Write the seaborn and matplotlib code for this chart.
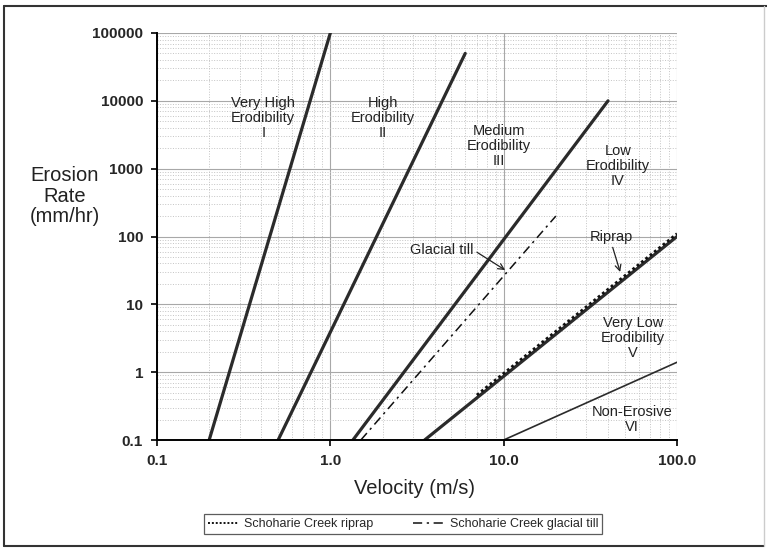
import matplotlib
matplotlib.use("Agg")
import matplotlib.pyplot as plt
import seaborn as sns
from matplotlib.lines import Line2D

# erodibility category lines (velocity m/s, erosion rate mm/hr)
vel_I = [0.2, 1.0]
rate_I = [0.1, 100000]
vel_II = [0.5, 6.0]
rate_II = [0.1, 50000]
vel_III = [1.35, 40]
rate_III = [0.1, 10000]
vel_IV = [3.5, 100]
rate_IV = [0.1, 100]
vel_VI = [10, 100]
rate_VI = [0.1, 1.4]

# Schoharie Creek test data
riprap_vel = [7, 100]
riprap_rate = [0.46, 110]
till_vel = [1.5, 20]
till_rate = [0.1, 200]

y_ticks = [0.1, 1, 10, 100, 1000, 10000, 100000]
y_labels = ["0.1", "1", "10", "100", "1000", "10000", "100000"]
x_ticks = [0.1, 1, 10, 100]
x_labels = ["0.1", "1.0", "10.0", "100.0"]

sns.set_style("white")
plt.rcParams['font.family'] = ['Liberation Sans', 'DejaVu Sans']

fig = plt.figure(figsize=(7.67, 5.48), dpi=100)
ax = fig.add_axes([157/767, 1-440/548, 520/767, 407/548])

dark = '#2b2b2b'
for v, r in [(vel_I, rate_I), (vel_II, rate_II), (vel_III, rate_III), (vel_IV, rate_IV)]:
    sns.lineplot(x=v, y=r, ax=ax, color=dark, lw=2.3, estimator=None, sort=False)
sns.lineplot(x=vel_VI, y=rate_VI, ax=ax, color=dark, lw=1.2, estimator=None, sort=False)
sns.lineplot(x=riprap_vel, y=riprap_rate, ax=ax, color='#111111', lw=2.0,
             linestyle=(0, (1, 1)), estimator=None, sort=False)
sns.lineplot(x=till_vel, y=till_rate, ax=ax, color='#111111', lw=1.1,
             linestyle=(0, (6, 3, 1.5, 3)), estimator=None, sort=False)

ax.set_xscale('log')
ax.set_yscale('log')
ax.set_xlim(0.1, 100)
ax.set_ylim(0.1, 100000)

ax.set_xticks(x_ticks)
ax.set_xticklabels(x_labels, fontsize=11, fontweight='bold')
ax.set_yticks(y_ticks)
ax.set_yticklabels(y_labels, fontsize=11, fontweight='bold')
ax.tick_params(axis='both', which='major', direction='out', length=4, width=1.2,
               color='black', bottom=True, left=True, pad=6)
ax.tick_params(axis='both', which='minor', length=0)
ax.yaxis.set_minor_locator(matplotlib.ticker.LogLocator(base=10, subs=range(2, 10), numticks=20))
ax.xaxis.set_minor_locator(matplotlib.ticker.LogLocator(base=10, subs=range(2, 10), numticks=20))

ax.grid(True, which='major', color='#a8a8a8', lw=0.8, ls='-')
ax.grid(True, which='minor', color='#c4c4c4', lw=0.7, ls=':')
ax.set_axisbelow(True)

for s in ['top', 'right']:
    ax.spines[s].set_visible(False)
for s in ['left', 'bottom']:
    ax.spines[s].set_color('black')
    ax.spines[s].set_linewidth(1.4)

ax.set_xlabel('')
ax.set_ylabel('')
fig.text(415/767, 1-488/548, 'Velocity (m/s)', fontsize=14.5, ha='center', va='center', color='#222222')
fig.text(65/767, 1-196/548, 'Erosion\nRate\n(mm/hr)', fontsize=14.5, ha='center', va='center',
         linespacing=1.1, color='#222222')

lab = dict(fontsize=10.5, ha='center', va='center', linespacing=1.12, color='#222222')
ax.text(0.41, 5600, 'Very High\nErodibility\nI', **lab)
ax.text(2.0, 5600, 'High\nErodibility\nII', **lab)
ax.text(9.4, 2170, 'Medium\nErodibility\nIII', **lab)
ax.text(45.7, 1100, 'Low\nErodibility\nIV', **lab)
ax.text(55.8, 3.2, 'Very Low\nErodibility\nV', **lab)
ax.text(55, 0.2, 'Non-Erosive\nVI', **lab)

arr = dict(arrowstyle='->', color='#222222', lw=0.9, shrinkA=0, shrinkB=0)
ax.annotate('Glacial till', xy=(10.2, 32), xytext=(4.4, 63), fontsize=10.5, ha='center',
            va='center', color='#222222', arrowprops=dict(arr, relpos=(1.0, 0.5)))
ax.annotate('Riprap', xy=(47, 30), xytext=(42, 98), fontsize=10.5, ha='center',
            va='center', color='#222222', arrowprops=dict(arr, relpos=(0.5, 0.0)))

handles = [Line2D([], [], color='#111111', lw=1.4, linestyle=(0, (1, 1))),
           Line2D([], [], color='#111111', lw=1.1, linestyle=(0, (6, 3, 1.5, 3)))]
leg = fig.legend(handles, ['Schoharie Creek riprap', 'Schoharie Creek glacial till'],
                 loc='center', bbox_to_anchor=(403/767, 1-524/548), ncol=2, fontsize=9,
                 frameon=True, fancybox=False, handlelength=2.4, columnspacing=3.2,
                 borderpad=0.3, handletextpad=0.5, borderaxespad=0)
leg.get_frame().set_edgecolor('#333333')
leg.get_frame().set_linewidth(0.9)

# outer frame
fig.add_artist(Line2D([4/767, 4/767], [2/548, 1-6/548], transform=fig.transFigure, color='#333333', lw=1.5))
fig.add_artist(Line2D([4/767, 1], [1-6/548, 1-6/548], transform=fig.transFigure, color='#333333', lw=1.5))
fig.add_artist(Line2D([4/767, 764/767], [2/548, 2/548], transform=fig.transFigure, color='#333333', lw=1.5))
fig.add_artist(Line2D([764/767, 764/767], [2/548, 1-6/548], transform=fig.transFigure, color='#cccccc', lw=1.0))

fig.savefig('out.png', dpi=100)
